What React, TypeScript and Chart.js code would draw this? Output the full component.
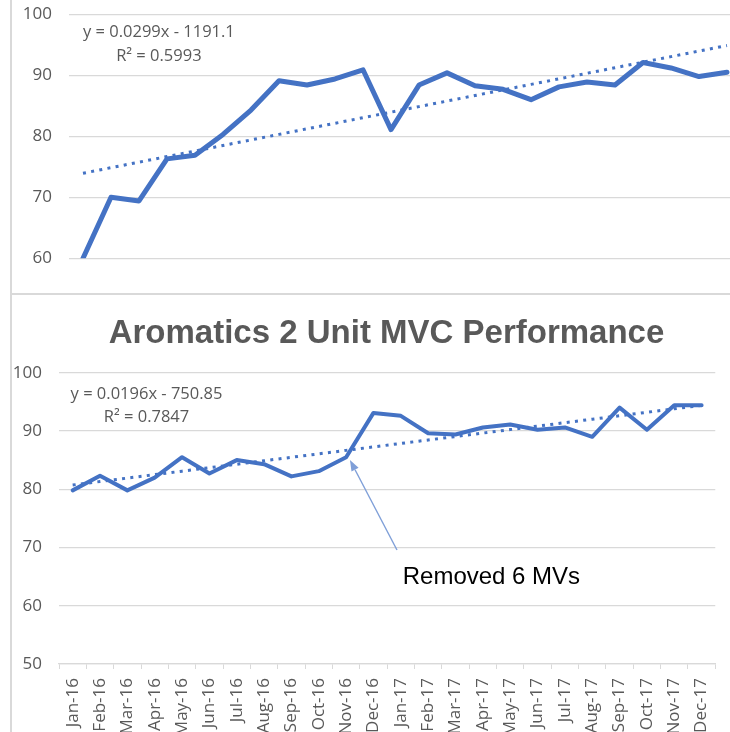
import React, { useEffect, useRef } from "react";
import { Chart, registerables } from "chart.js";

Chart.register(...registerables);

// ---------- data ----------
const months = [
  "Jan-16", "Feb-16", "Mar-16", "Apr-16", "May-16", "Jun-16",
  "Jul-16", "Aug-16", "Sep-16", "Oct-16", "Nov-16", "Dec-16",
  "Jan-17", "Feb-17", "Mar-17", "Apr-17", "May-17", "Jun-17",
  "Jul-17", "Aug-17", "Sep-17", "Oct-17", "Nov-17", "Dec-17",
];

const unit1Performance = [
  60, 70, 69.4, 76.3, 76.9, 80.3, 84.3, 89.1, 88.4, 89.4, 90.9, 81.1,
  88.4, 90.4, 88.3, 87.7, 86.0, 88.1, 88.9, 88.4, 92.1, 91.2, 89.8, 90.5,
];

const unit2Performance = [
  79.8, 82.3, 79.8, 82.0, 85.5, 82.7, 85.0, 84.3, 82.2, 83.1, 85.5, 93.1,
  92.6, 89.6, 89.4, 90.6, 91.1, 90.2, 90.6, 89.0, 94.0, 90.2, 94.4, 94.4,
];

const topYRange = [60, 100];
const bottomYRange = [50, 100];
const yStep = 10;

const topEquationLines = ["y = 0.0299x - 1191.1", "R² = 0.5993"];
const bottomEquationLines = ["y = 0.0196x - 750.85", "R² = 0.7847"];
const bottomTitle = "Aromatics 2 Unit MVC Performance";
const calloutText = "Removed 6 MVs";

// ---------- helpers ----------
function leastSquaresTrend(values: number[]): number[] {
  const n = values.length;
  const mx = (n - 1) / 2;
  const my = values.reduce((a, b) => a + b, 0) / n;
  let sxy = 0;
  let sxx = 0;
  values.forEach((v, i) => {
    sxy += (i - mx) * (v - my);
    sxx += (i - mx) * (i - mx);
  });
  const slope = sxy / sxx;
  return values.map((_, i) => my + slope * (i - mx));
}

const BLUE = "#4472c4";
const GRID = "#d9d9d9";
const TEXT = "#595959";
const TICK_FONT = { family: "'Open Sans', sans-serif", size: 17 };
const EQ_FONT = "16.5px 'Open Sans', sans-serif";

const overlayPlugin = {
  id: "overlay",
  afterDatasetsDraw(chart: any, _args: any, opts: any) {
    const { ctx } = chart;
    const xs = chart.scales.x;
    const ys = chart.scales.y;
    ctx.save();
    for (const t of opts.texts || []) {
      ctx.font = t.font;
      ctx.fillStyle = t.color;
      ctx.textAlign = t.align || "center";
      ctx.textBaseline = "alphabetic";
      const px = t.px !== undefined ? t.px : xs.getPixelForValue(t.x);
      const py = t.py !== undefined ? t.py : ys.getPixelForValue(t.y);
      ctx.fillText(t.text, px, py);
    }
    for (const a of opts.arrows || []) {
      const x1 = xs.getPixelForValue(a.from[0]);
      const y1 = ys.getPixelForValue(a.from[1]);
      const x2 = xs.getPixelForValue(a.to[0]);
      const y2 = ys.getPixelForValue(a.to[1]);
      const ang = Math.atan2(y2 - y1, x2 - x1);
      const len = a.headLength;
      const w = a.headWidth;
      const bx = x2 - len * Math.cos(ang);
      const by = y2 - len * Math.sin(ang);
      ctx.strokeStyle = a.color;
      ctx.lineWidth = a.width;
      ctx.beginPath();
      ctx.moveTo(x1, y1);
      ctx.lineTo(bx, by);
      ctx.stroke();
      ctx.fillStyle = a.color;
      ctx.beginPath();
      ctx.moveTo(x2, y2);
      ctx.lineTo(bx + (w / 2) * Math.sin(ang), by - (w / 2) * Math.cos(ang));
      ctx.lineTo(bx - (w / 2) * Math.sin(ang), by + (w / 2) * Math.cos(ang));
      ctx.closePath();
      ctx.fill();
    }
    ctx.restore();
  },
};

function lineDatasets(values: number[], width: number) {
  return [
    {
      label: "Trend",
      data: leastSquaresTrend(values),
      borderColor: BLUE,
      borderWidth: 3,
      borderDash: [3, 5.3],
      borderCapStyle: "butt",
      pointRadius: 0,
      fill: false,
      tension: 0,
    },
    {
      label: "Performance",
      data: values,
      borderColor: BLUE,
      borderWidth: width,
      borderJoinStyle: "round",
      borderCapStyle: "round",
      pointRadius: 0,
      fill: false,
      tension: 0,
    },
  ];
}

function yAxis(range: number[], width: number) {
  return {
    min: range[0],
    max: range[1],
    ticks: { stepSize: yStep, font: TICK_FONT, color: TEXT, padding: 0 },
    grid: { color: GRID, lineWidth: 1.3, drawTicks: true, tickLength: 17, tickColor: "rgba(0,0,0,0)" },
    border: { display: false },
    afterFit: (s: any) => { s.width = width; },
  };
}

export default function App() {
  const topRef = useRef<HTMLCanvasElement | null>(null);
  const botRef = useRef<HTMLCanvasElement | null>(null);

  useEffect(() => {
    const top = new Chart(topRef.current as HTMLCanvasElement, {
      type: "line",
      data: { labels: months, datasets: lineDatasets(unit1Performance, 5) as any },
      plugins: [overlayPlugin as any],
      options: {
        animation: false,
        responsive: false,
        devicePixelRatio: 1,
        layout: { padding: { top: 14.3, bottom: 35.7, left: 0, right: 0 } },
        plugins: {
          legend: { display: false },
          tooltip: { enabled: false },
          title: { display: false },
          overlay: {
            texts: [
              { text: topEquationLines[0], x: 2.71, y: 96.23, font: EQ_FONT, color: TEXT },
              { text: topEquationLines[1], x: 2.71, y: 92.34, font: EQ_FONT, color: TEXT },
            ],
          },
        } as any,
        scales: {
          x: { type: "category", display: false, offset: true },
          y: yAxis(topYRange, 69) as any,
        },
      },
    });

    const bot = new Chart(botRef.current as HTMLCanvasElement, {
      type: "line",
      data: { labels: months, datasets: lineDatasets(unit2Performance, 4) as any },
      plugins: [overlayPlugin as any],
      options: {
        animation: false,
        responsive: false,
        devicePixelRatio: 1,
        layout: { padding: { top: 77.7, bottom: 0, left: 0, right: 0 } },
        plugins: {
          legend: { display: false },
          tooltip: { enabled: false },
          title: { display: false },
          overlay: {
            texts: [
              { text: bottomTitle, px: 386.5, py: 47.7, font: "bold 33px 'Liberation Sans', Arial, sans-serif", color: TEXT },
              { text: bottomEquationLines[0], x: 2.7, y: 95.49, font: EQ_FONT, color: TEXT },
              { text: bottomEquationLines[1], x: 2.7, y: 91.59, font: EQ_FONT, color: TEXT },
              { text: calloutText, x: 12.07, y: 63.73, align: "left", font: "24px 'Liberation Sans', Arial, sans-serif", color: "#000000" },
            ],
            arrows: [
              { from: [11.86, 69.57], to: [10.14, 85.02], color: "#7f9fd8", width: 1.4, headLength: 11, headWidth: 8 },
            ],
          },
        } as any,
        scales: {
          x: {
            type: "category",
            offset: true,
            grid: { offset: true, drawOnChartArea: false, drawTicks: true, tickLength: 5, color: GRID },
            border: { display: true, color: GRID, width: 1.3 },
            ticks: { autoSkip: false, minRotation: 90, maxRotation: 90, font: TICK_FONT, color: TEXT, padding: 9 },
            afterFit: (s: any) => { s.height = 80; },
          },
          y: yAxis(bottomYRange, 59) as any,
        },
      },
    });

    return () => {
      top.destroy();
      bot.destroy();
    };
  }, []);

  return (
    <div style={{ position: "fixed", left: 0, top: 0, width: 730, height: 732, overflow: "hidden", background: "#ffffff" }}>
      <canvas ref={topRef} width={741} height={294} style={{ position: "absolute", left: 0, top: 0 }} />
      <canvas ref={botRef} width={731} height={449} style={{ position: "absolute", left: 0, top: 295 }} />
      <div style={{ position: "absolute", left: 10, top: 0, width: 2, height: 732, background: GRID }} />
      <div style={{ position: "absolute", left: 10, top: 293, width: 720, height: 2, background: GRID }} />
    </div>
  );
}
